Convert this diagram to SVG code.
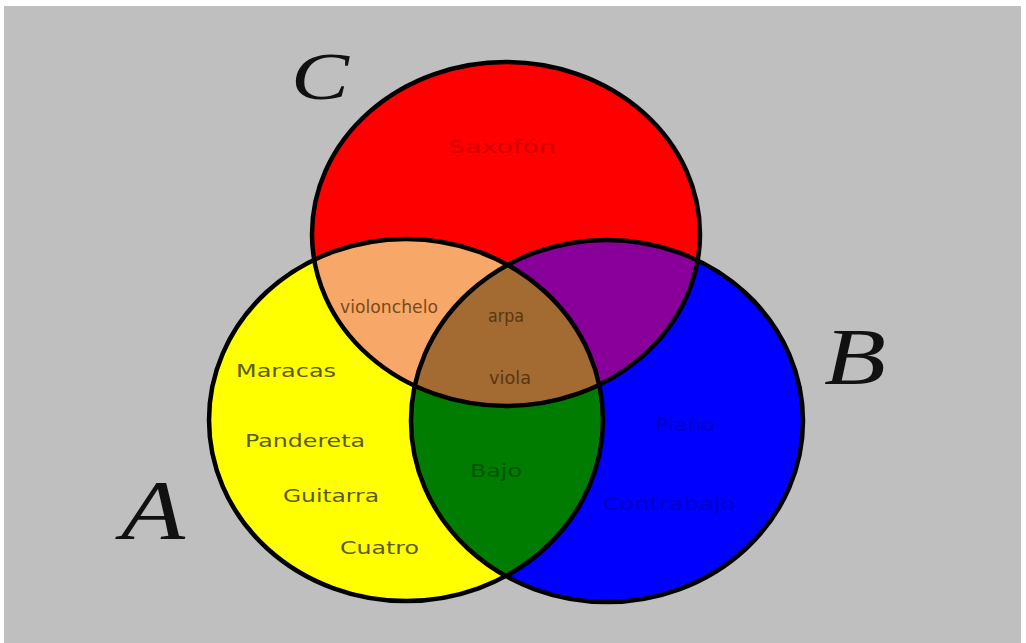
<svg xmlns="http://www.w3.org/2000/svg" width="1026" height="643" viewBox="0 0 1026 643">
<style>
.outline{fill:none;stroke:#000;stroke-width:4.5}
.set{font-family:"Liberation Serif",serif;font-style:italic;fill:#111}
.lbl{font-family:"DejaVu Sans","Liberation Sans",sans-serif;font-size:18px}
.y{fill:#5b5a14}
</style>
<defs>
<clipPath id="clipA"><ellipse cx="406" cy="420" rx="197" ry="181"/></clipPath>
<clipPath id="clipB"><ellipse cx="607" cy="421" rx="196" ry="181"/></clipPath>
<clipPath id="clipC"><ellipse cx="506" cy="234" rx="194" ry="172"/></clipPath>
</defs>
<rect x="0" y="0" width="1026" height="643" fill="#fff"/>
<rect x="4" y="6" width="1017" height="637" fill="#bfbfbf"/>
<g id="regions">
<ellipse cx="406" cy="420" rx="197" ry="181" fill="#ffff00"/>
<ellipse cx="607" cy="421" rx="196" ry="181" fill="#0000ff"/>
<ellipse cx="506" cy="234" rx="194" ry="172" fill="#ff0000"/>
<g clip-path="url(#clipA)"><ellipse cx="506" cy="234" rx="194" ry="172" fill="#f7a868"/></g>
<g clip-path="url(#clipA)"><ellipse cx="607" cy="421" rx="196" ry="181" fill="#007d00"/></g>
<g clip-path="url(#clipB)"><ellipse cx="506" cy="234" rx="194" ry="172" fill="#880099"/></g>
<g clip-path="url(#clipA)"><g clip-path="url(#clipB)"><ellipse cx="506" cy="234" rx="194" ry="172" fill="#a36a32"/></g></g>
</g>
<g id="setA"><ellipse class="outline" cx="406" cy="420" rx="197" ry="181"/><text class="set" x="121" y="539" font-size="84" textLength="64" lengthAdjust="spacingAndGlyphs">A</text></g>
<g id="setB"><ellipse class="outline" cx="607" cy="421" rx="196" ry="181"/><text class="set" x="824" y="384" font-size="80" textLength="62" lengthAdjust="spacingAndGlyphs">B</text></g>
<g id="setC"><ellipse class="outline" cx="506" cy="234" rx="194" ry="172"/><text class="set" x="291" y="99" font-size="68" textLength="58" lengthAdjust="spacingAndGlyphs">C</text></g>
<g id="labels">
<text class="lbl y" x="236" y="377" textLength="100" lengthAdjust="spacingAndGlyphs">Maracas</text>
<text class="lbl y" x="245" y="447" textLength="120" lengthAdjust="spacingAndGlyphs">Pandereta</text>
<text class="lbl y" x="283" y="502" textLength="96" lengthAdjust="spacingAndGlyphs">Guitarra</text>
<text class="lbl y" x="340" y="554" textLength="79" lengthAdjust="spacingAndGlyphs">Cuatro</text>
<text class="lbl" x="340" y="313" font-size="13" fill="#7a4a1c" textLength="98" lengthAdjust="spacingAndGlyphs">violonchelo</text>
<text class="lbl" x="488" y="322" font-size="13" fill="#5a3610" textLength="36" lengthAdjust="spacingAndGlyphs">arpa</text>
<text class="lbl" x="489" y="384" font-size="16" fill="#5a3610" textLength="42" lengthAdjust="spacingAndGlyphs">viola</text>
<text class="lbl" x="448" y="153" font-size="15" fill="#d40000" textLength="108" lengthAdjust="spacingAndGlyphs">Saxofón</text>
<text class="lbl" x="470" y="477" font-size="15" fill="#005600" textLength="52" lengthAdjust="spacingAndGlyphs">Bajo</text>
<text class="lbl" x="655" y="431" font-size="15" fill="#0000c8" textLength="60" lengthAdjust="spacingAndGlyphs">Piano</text>
<text class="lbl" x="603" y="510" font-size="15" fill="#0000c8" textLength="132" lengthAdjust="spacingAndGlyphs">Contrabajo</text>
</g>
</svg>
